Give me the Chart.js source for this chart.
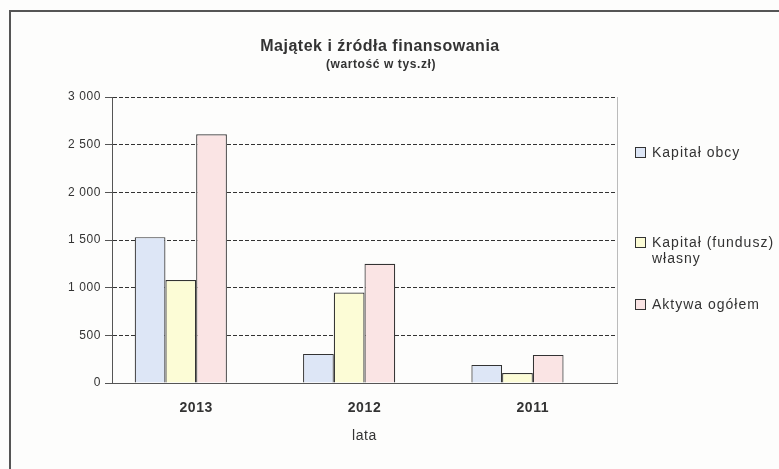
<!DOCTYPE html>
<html>
<head>
<meta charset="utf-8">
<script src="https://cdn.jsdelivr.net/npm/chart.js@4"></script>
<style>
    body { margin: 0; background: #fdfdfc; }
    #wrap { position: relative; width: 779px; height: 469px; }
</style>
</head>
<body>
<div id="wrap"><canvas id="chart" width="779" height="469"></canvas></div>
<script>
// Years on the x axis
const years = ['2013', '2012', '2011'];

// Values in thousands of zloty
const kapitalObcy = [1530, 305, 190];
const kapitalWlasny = [1080, 950, 105];
const aktywaOgolem = [2610, 1250, 295];

const seriesLabels = ['Kapitał obcy', ['Kapitał (fundusz)', 'własny'], 'Aktywa ogółem'];
const yTicks = [0, 500, 1000, 1500, 2000, 2500, 3000];

const fillColors = ['#dde6f6', '#fcfcd6', '#fae4e4'];
const font = '"Liberation Sans", Arial, sans-serif';

// Frame, titles, plot border and the legend on the right
const decorPlugin = {
    id: 'decor',
    beforeDraw(chart) {
        const ctx = chart.ctx;
        ctx.save();
        ctx.strokeStyle = '#555';
        ctx.lineWidth = 2;
        ctx.beginPath();
        ctx.moveTo(10, 469);
        ctx.lineTo(10, 11);
        ctx.lineTo(779, 11);
        ctx.stroke();
        ctx.restore();
        ctx.letterSpacing = '0.6px';
    },
    afterDraw(chart) {
        const ctx = chart.ctx;
        const area = chart.chartArea;
        ctx.save();
        // plot area right border
        ctx.strokeStyle = '#bbb';
        ctx.lineWidth = 1;
        ctx.beginPath();
        ctx.moveTo(area.right + 0.5, area.top);
        ctx.lineTo(area.right + 0.5, area.bottom);
        ctx.stroke();

        // titles
        ctx.fillStyle = '#333';
        ctx.textAlign = 'center';
        ctx.textBaseline = 'middle';
        ctx.letterSpacing = '0.5px';
        ctx.font = 'bold 16px ' + font;
        ctx.fillText('Majątek i źródła finansowania', 380, 47);
        ctx.letterSpacing = '0.6px';
        ctx.font = 'bold 12px ' + font;
        ctx.fillText('(wartość w tys.zł)', 381, 65);

        // legend, only the three real series
        const rows = [153, 243, 305];
        ctx.textAlign = 'left';
        ctx.letterSpacing = '1px';
        ctx.font = '14px ' + font;
        chart.data.datasets.slice(0, 3).forEach((ds, i) => {
            const y = rows[i];
            ctx.fillStyle = ds.backgroundColor;
            ctx.fillRect(635.5, y - 5.5, 10, 10);
            ctx.strokeStyle = '#333';
            ctx.strokeRect(635.5, y - 5.5, 10, 10);
            ctx.fillStyle = '#333';
            const lines = Array.isArray(ds.label) ? ds.label : [ds.label];
            lines.forEach((t, j) => ctx.fillText(t, 652, y + j * 16));
        });
        ctx.restore();
    }
};

const datasets = [kapitalObcy, kapitalWlasny, aktywaOgolem].map((vals, i) => ({
    label: seriesLabels[i],
    data: vals,
    backgroundColor: fillColors[i],
    borderColor: '#333',
    borderWidth: 1.2,
    barPercentage: 1,
    categoryPercentage: 0.73
}));
// empty slot after the three bars, the groups sit left of the year labels
datasets.push({ label: '', data: years.map(() => null), barPercentage: 1, categoryPercentage: 0.73 });

new Chart(document.getElementById('chart'), {
    type: 'bar',
    data: { labels: years, datasets: datasets },
    options: {
        responsive: false,
        animation: false,
        layout: { padding: { left: 0, top: 97, right: 162, bottom: 0 } },
        plugins: {
            legend: { display: false },
            tooltip: { enabled: false }
        },
        scales: {
            x: {
                grid: { display: false },
                border: { color: '#555', width: 1 },
                ticks: { color: '#333', font: { family: font, size: 14, weight: 'bold' }, padding: 9 },
                title: { display: true, text: 'lata', color: '#333', font: { family: font, size: 14 }, padding: { top: 4, bottom: 24 } },
                afterFit(scale) { scale.height = 86; }
            },
            y: {
                min: 0,
                max: 3000,
                afterBuildTicks(scale) { scale.ticks = yTicks.map(v => ({ value: v })); },
                grid: {
                    color: '#333',
                    lineWidth: 1,
                    tickLength: 7,
                    tickBorderDash: [1, 0],
                    tickColor: '#555'
                },
                border: { color: '#555', width: 1, dash: [4, 2] },
                ticks: {
                    color: '#333',
                    font: { family: font, size: 12 },
                    padding: 4,
                    callback: v => String(v).replace(/\B(?=(\d{3})+(?!\d))/g, ' ')
                },
                afterFit(scale) { scale.width = 112; }
            }
        }
    },
    plugins: [decorPlugin]
});
</script>
</body>
</html>
